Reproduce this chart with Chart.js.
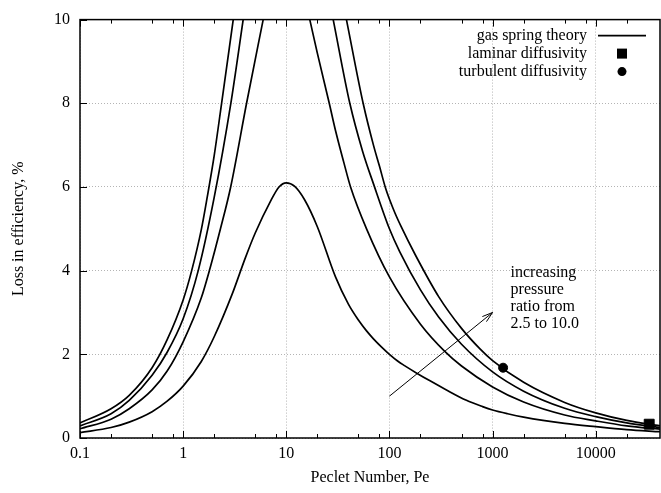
<!DOCTYPE html>
<html>
<head>
<meta charset="utf-8">
<script src="https://cdn.jsdelivr.net/npm/chart.js@4.4.0/dist/chart.umd.min.js"></script>
<style>
  html, body { margin: 0; padding: 0; background: #fff; }
  canvas { display: block; }
</style>
</head>
<body>
<canvas id="myChart" width="661" height="493"></canvas>
<script>
// axis ticks
const xTicks = [0.1, 1, 10, 100, 1000, 10000];
const xTickLabels = ['0.1', '1', '10', '100', '1000', '10000'];
const minorSteps = [2, 5, 8];
const yTicks = [0, 2, 4, 6, 8, 10];

// gas spring theory, one curve per pressure ratio (lowest to highest)
// null = curve runs off the top of the plot
const peA = [0.1, 0.2, 0.3, 0.5, 0.7, 1, 1.5, 2, 3, 4, 5, 7, 8.5, 10, 12, 15, 20, 30, 40, 50, 60, 70, 85, 100, 120, 140, 184, 250, 350, 558, 800, 1000, 1400, 2000, 5000, 10000, 20000, 42000];
const lossA = [0.13, 0.25, 0.38, 0.63, 0.88, 1.24, 1.83, 2.42, 3.45, 4.3, 4.9, 5.65, 6.0, 6.1, 6.02, 5.7, 5.05, 3.85, 3.2, 2.82, 2.56, 2.37, 2.16, 2.0, 1.84, 1.73, 1.55, 1.36, 1.16, 0.9, 0.75, 0.67, 0.58, 0.5, 0.35, 0.27, 0.2, 0.15];

const peB = [0.1, 0.2, 0.3, 0.5, 0.7, 1, 1.5, 1.82, 2.3, 2.89, 4.12, 5.97, null, 16.9, 20, 26.1, 30, 36, 42, 60, 100, 200, 344, 500, 1000, 2000, 5000, 10000, 20000, 42000];
const lossB = [0.22, 0.45, 0.7, 1.15, 1.6, 2.3, 3.35, 4.05, 5.0, 6, 8, 10, null, 10, 9.2, 8, 7.35, 6.6, 6, 5.0, 3.85, 2.72, 2.07, 1.72, 1.22, 0.86, 0.55, 0.41, 0.29, 0.21];

const peC = [0.1, 0.2, 0.3, 0.5, 0.7, 1, 1.4, 2, 2.9, 3.82, null, 28.5, 41.3, 55, 70.6, 100, 126, 200, 300, 500, 1000, 2000, 5000, 10000, 20000, 42000];
const lossC = [0.29, 0.58, 0.9, 1.5, 2.05, 2.85, 4.0, 5.75, 8, 10, null, 10, 8, 6.85, 6.05, 5.0, 4.45, 3.54, 2.89, 2.24, 1.58, 1.12, 0.71, 0.51, 0.36, 0.25];

const peD = [0.1, 0.2, 0.3, 0.5, 0.7, 1, 1.21, 1.5, 1.71, 2, 2.36, 3.06, null, 38.3, 55.6, 70, 80, 92.3, 110, 130, 178, 300, 500, 755, 1000, 2000, 5000, 10000, 20000, 42000];
const lossD = [0.36, 0.7, 1.02, 1.68, 2.35, 3.3, 4.0, 4.98, 5.75, 6.75, 8, 10, null, 10, 8, 7.0, 6.5, 5.95, 5.45, 5.05, 4.38, 3.38, 2.62, 2.13, 1.85, 1.33, 0.85, 0.6, 0.42, 0.29];

// measured points
const laminarPe = [33000];
const laminarLoss = [0.33];
const turbulentPe = [1265];
const turbulentLoss = [1.68];

const legendLabels = ['gas spring theory', 'laminar diffusivity', 'turbulent diffusivity'];
const noteLines = ['increasing', 'pressure', 'ratio from', '2.5 to 10.0'];
const arrowFrom = [100, 1.0];
const arrowTo = [1000, 3.0];

const FONT = 'Liberation Serif';

function toPoints(xs, ys) {
    return xs.map(function (x, i) {
        return { x: x === null ? xs[i - 1] : x, y: ys[i] };
    });
}

function curve(xs, ys) {
    return {
        data: toPoints(xs, ys),
        showLine: true,
        borderColor: '#000',
        borderWidth: 1.7,
        pointRadius: 0,
        cubicInterpolationMode: 'monotone',
        spanGaps: false
    };
}

const frame = {
    id: 'frame',
    afterDraw(chart) {
        const ctx = chart.ctx;
        const a = chart.chartArea;
        const x = chart.scales.x;
        const y = chart.scales.y;
        ctx.save();

        // ticks inside the box
        ctx.strokeStyle = '#000';
        ctx.lineWidth = 1;
        ctx.beginPath();
        xTicks.forEach(function (d) {
            [1].concat(minorSteps).forEach(function (m) {
                const v = d * m;
                if (v > x.max) return;
                const px = Math.round(x.getPixelForValue(v)) + 0.5;
                const len = m === 1 ? 7 : 4;
                ctx.moveTo(px, a.bottom); ctx.lineTo(px, a.bottom - len);
                ctx.moveTo(px, a.top); ctx.lineTo(px, a.top + len);
            });
        });
        yTicks.forEach(function (v) {
            const py = Math.round(y.getPixelForValue(v)) + 0.5;
            ctx.moveTo(a.left, py); ctx.lineTo(a.left + 7, py);
        });
        ctx.stroke();

        // box
        ctx.lineWidth = 1.5;
        ctx.strokeRect(a.left, a.top, a.right - a.left, a.bottom - a.top);

        // legend
        ctx.font = '16px "' + FONT + '"';
        ctx.fillStyle = '#000';
        ctx.textAlign = 'right';
        ctx.textBaseline = 'middle';
        const tx = a.right - 73;
        const sx = a.right - 38;
        legendLabels.forEach(function (t, i) {
            const ty = a.top + 16 + i * 18;
            ctx.fillText(t, tx, ty);
            if (i === 0) {
                ctx.lineWidth = 1.7;
                ctx.beginPath();
                ctx.moveTo(a.right - 62, ty); ctx.lineTo(a.right - 14, ty);
                ctx.stroke();
            } else if (i === 1) {
                ctx.fillRect(sx - 5, ty - 5, 10, 10);
            } else {
                ctx.beginPath();
                ctx.arc(sx, ty, 4.5, 0, Math.PI * 2);
                ctx.fill();
            }
        });

        // arrow
        const x0 = x.getPixelForValue(arrowFrom[0]);
        const y0 = y.getPixelForValue(arrowFrom[1]);
        const x1 = x.getPixelForValue(arrowTo[0]);
        const y1 = y.getPixelForValue(arrowTo[1]);
        const ang = Math.atan2(y1 - y0, x1 - x0);
        ctx.lineWidth = 1;
        ctx.beginPath();
        ctx.moveTo(x0, y0); ctx.lineTo(x1, y1);
        ctx.moveTo(x1 - 11 * Math.cos(ang - 0.3), y1 - 11 * Math.sin(ang - 0.3));
        ctx.lineTo(x1, y1);
        ctx.lineTo(x1 - 11 * Math.cos(ang + 0.3), y1 - 11 * Math.sin(ang + 0.3));
        ctx.stroke();

        // note text
        ctx.textAlign = 'left';
        const nx = x1 + 18;
        noteLines.forEach(function (t, i) {
            ctx.fillText(t, nx, y1 - 40 + i * 17);
        });
        ctx.restore();
    }
};

const tickFont = { family: FONT, size: 16 };

let ctx = document.getElementById('myChart').getContext('2d');
var myChart = new Chart(ctx, {
    type: 'scatter',
    data: {
        datasets: [
            curve(peA, lossA),
            curve(peB, lossB),
            curve(peC, lossC),
            curve(peD, lossD),
            {
                data: toPoints(laminarPe, laminarLoss),
                pointStyle: 'rect',
                pointRadius: 7,
                backgroundColor: '#000',
                borderColor: '#000',
                showLine: false
            },
            {
                data: toPoints(turbulentPe, turbulentLoss),
                pointStyle: 'circle',
                pointRadius: 4.5,
                backgroundColor: '#000',
                borderColor: '#000',
                showLine: false
            }
        ]
    },
    options: {
        responsive: false,
        animation: false,
        layout: { autoPadding: false, padding: { top: 17, right: 1, left: 0, bottom: 0 } },
        plugins: {
            legend: { display: false },
            tooltip: { enabled: false }
        },
        scales: {
            x: {
                type: 'logarithmic',
                min: 0.1,
                max: 42000,
                afterBuildTicks: function (s) {
                    s.ticks = xTicks.map(function (v) { return { value: v }; });
                },
                afterFit: function (s) {
                    s.height = 55;
                    s.paddingLeft = 0;
                    s.paddingRight = 0;
                },
                ticks: {
                    callback: function (v, i) { return xTickLabels[i]; },
                    font: tickFont,
                    color: '#000',
                    padding: 6,
                    maxRotation: 0,
                    autoSkip: false
                },
                grid: { color: '#b4b4b4', drawTicks: false, lineWidth: 1 },
                border: { display: false, dash: [1, 2] },
                title: {
                    display: true,
                    text: 'Peclet Number, Pe',
                    font: tickFont,
                    color: '#000',
                    padding: { top: 0, bottom: 6 }
                }
            },
            y: {
                min: 0,
                max: 10,
                afterBuildTicks: function (s) {
                    s.ticks = yTicks.map(function (v) { return { value: v }; });
                },
                afterFit: function (s) { s.width = 80; },
                ticks: {
                    font: tickFont,
                    color: '#000',
                    padding: 10
                },
                grid: { color: '#b4b4b4', drawTicks: false, lineWidth: 1 },
                border: { display: false, dash: [1, 2] },
                title: {
                    display: true,
                    text: 'Loss in efficiency, %',
                    font: tickFont,
                    color: '#000',
                    padding: { top: 9, bottom: 0 }
                }
            }
        }
    },
    plugins: [frame]
});
</script>
</body>
</html>
